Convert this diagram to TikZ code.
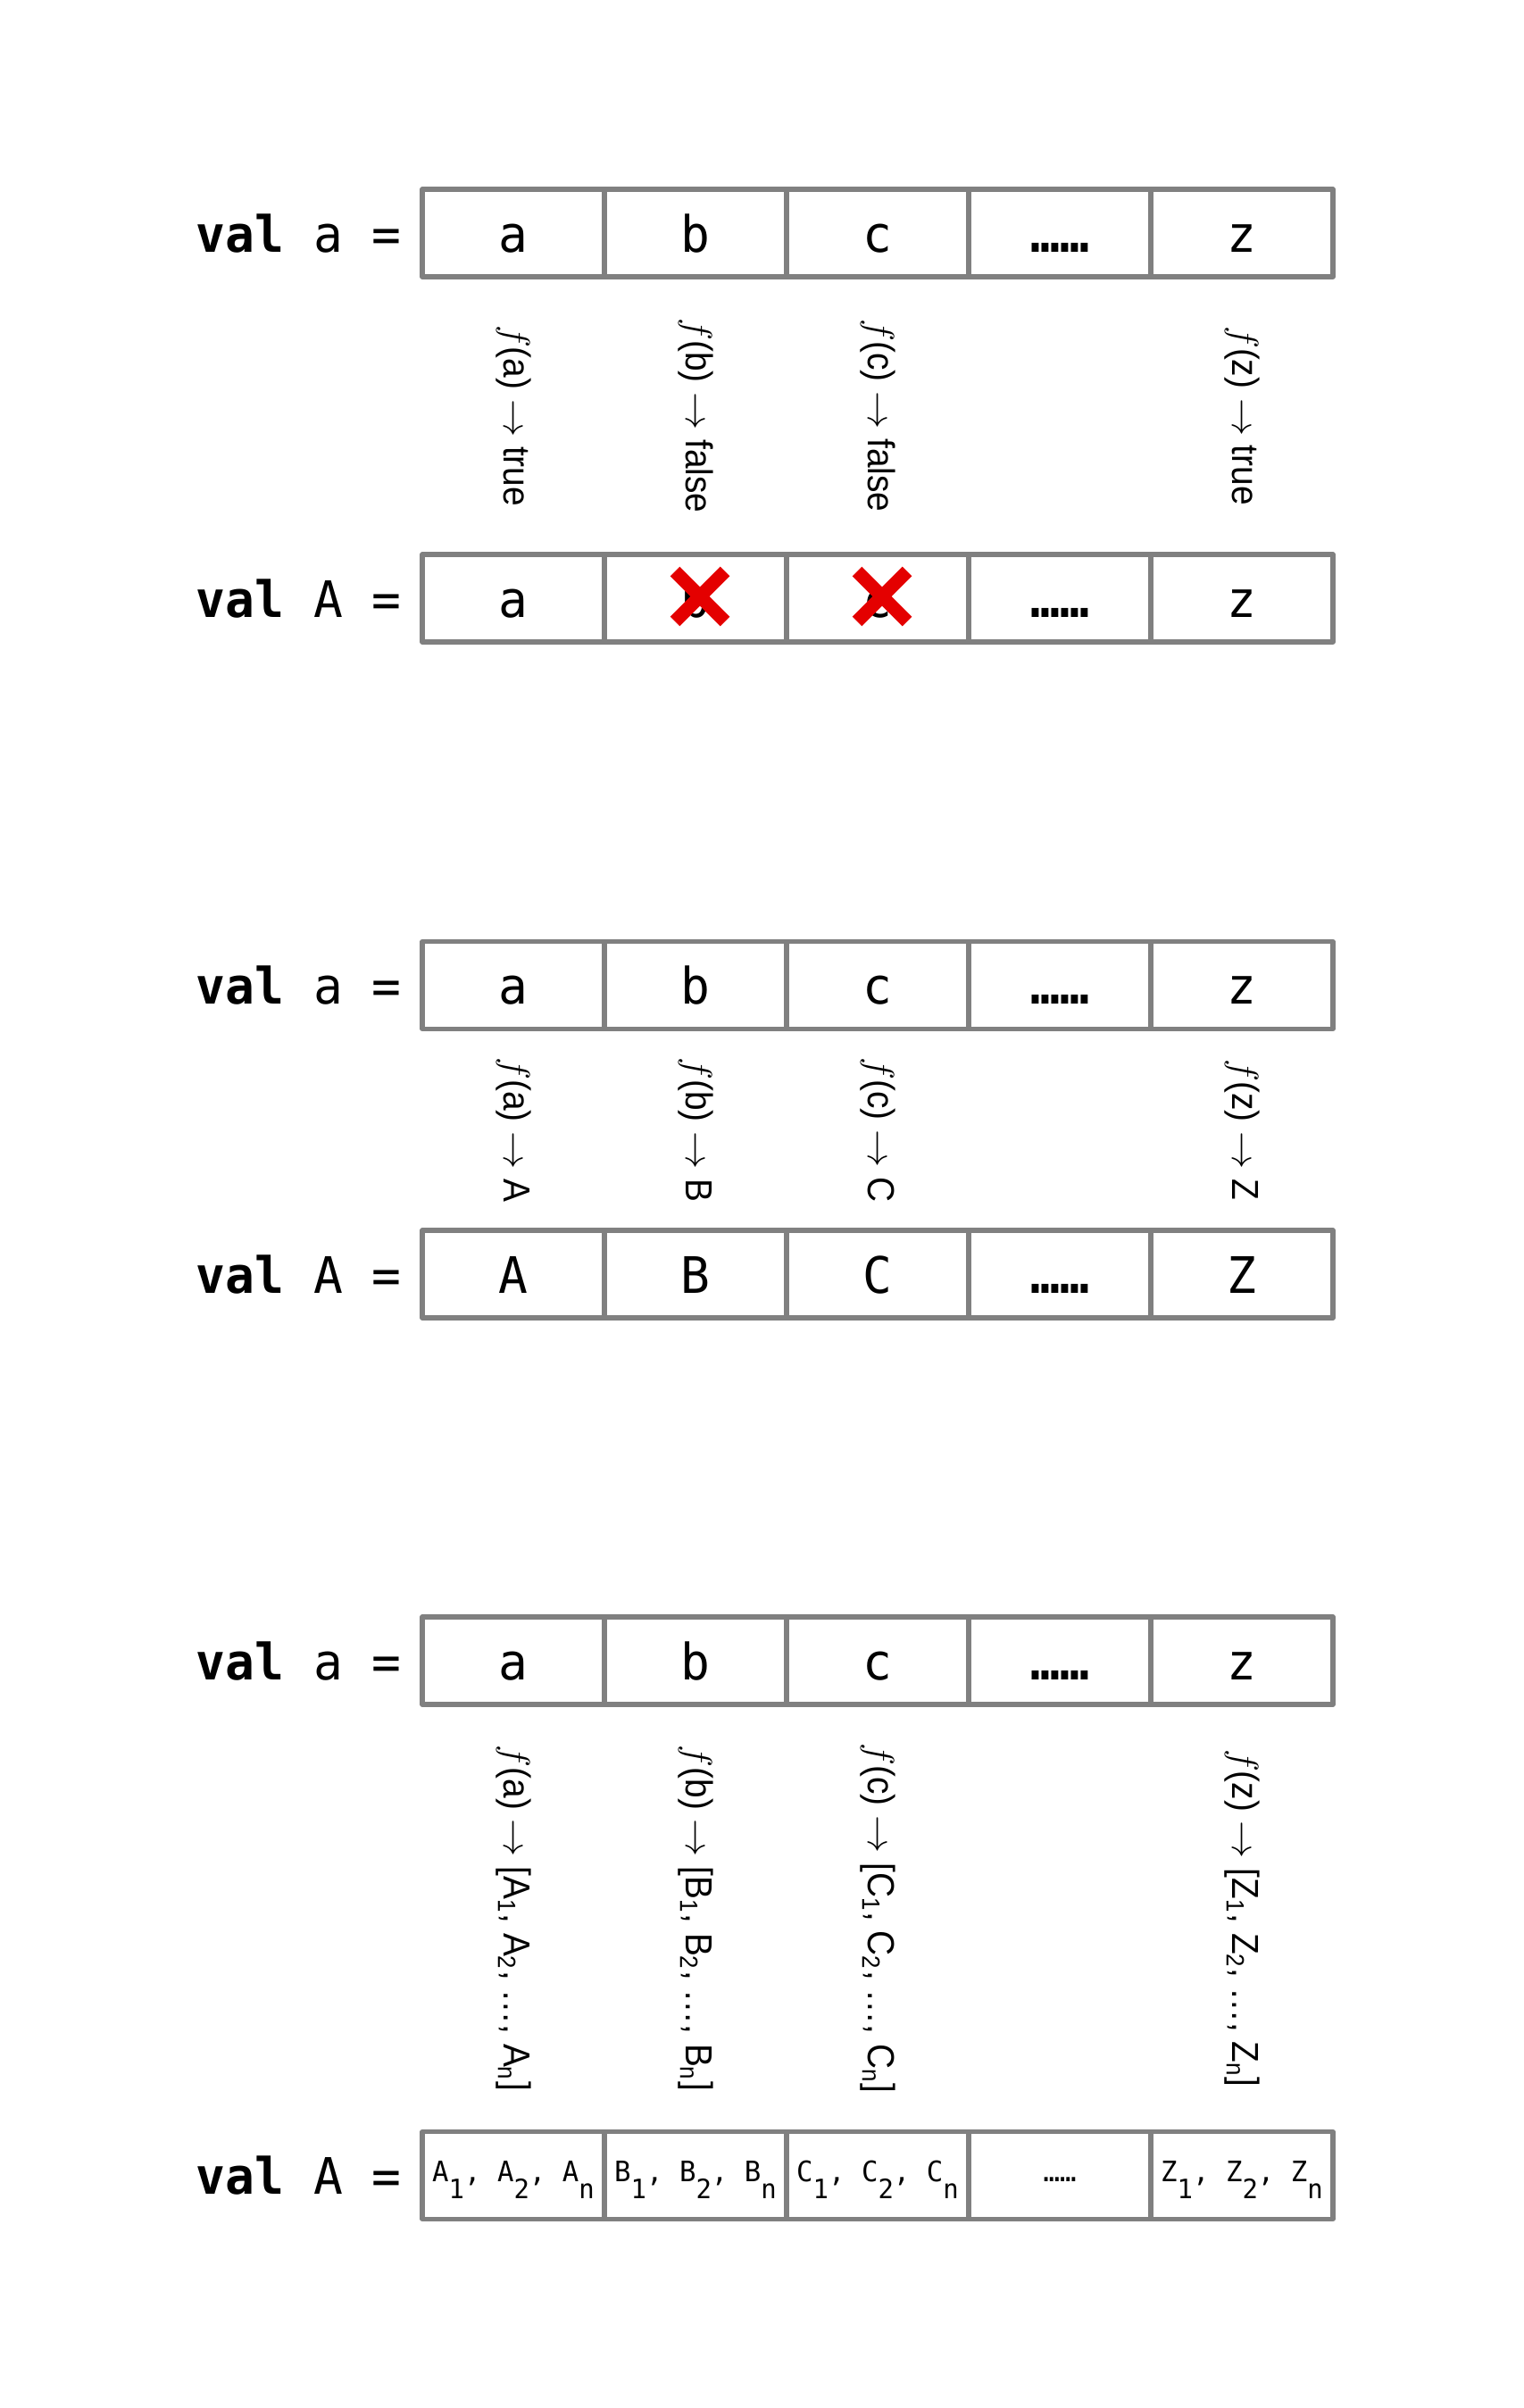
\documentclass[tikz,border=0pt]{standalone}
\usepackage{fontspec}
\setmainfont[FakeStretch=0.92]{Liberation Sans}
\newfontfamily\codefont[FakeStretch=0.97]{DejaVu Sans Mono}
\usetikzlibrary{
    positioning,
    calc
}
\definecolor{cellGray}{RGB}{128, 128, 128}
\definecolor{crossRed}{RGB}{228, 0, 0}
\newcommand{\lowidx}[1]{\raisebox{-5.5pt}{\fontsize{8.5}{9}\selectfont #1}}
\newcommand{\idxlist}[1]{#1\lowidx{1}, #1\lowidx{2}, #1\lowidx{n}}

\begin{document}
\begin{tikzpicture}[
        cell/.style={draw=cellGray, line width=1.45pt, line join=round,
            minimum width=2.04cm, minimum height=0.98cm, inner sep=0pt,
            text height=12pt, text depth=0pt,
            font=\codefont\fontsize{16}{18}\selectfont},
        small cell/.style={cell, text height=4pt,
            font=\codefont\fontsize{9}{12}\selectfont},
        decl/.style={inner sep=0pt, text height=12pt, text depth=0pt,
            font=\codefont\fontsize{16}{18}\selectfont},
        fx/.style={rotate=-90, inner sep=0pt, font=\fontsize{12}{14}\selectfont},
        cross/.style={crossRed, line width=4.3pt}
    ]
    \useasboundingbox (0,0) rectangle (17.06,-26.97);

    % filter: true keeps, false drops
    \foreach \t [count=\i] in {a,b,c,{\bfseries ……},z} {
        \node[cell] (top1-\i) at ({5.75+2.04*(\i-1)}, -2.61) {\t};
        \node[cell] (bot1-\i) at ({5.75+2.04*(\i-1)}, -6.70) {\t};
    }
    \node[decl, left=0.2cm of top1-1] (decl1a) {\textbf{val} a =};
    \node[decl, left=0.2cm of bot1-1] (decl1A) {\textbf{val} A =};
    \foreach \i/\s/\r in {1/a/true, 2/b/false, 3/c/false, 5/z/true} {
        \node[fx] (map1-\i) at ($(top1-\i)!0.5!(bot1-\i)$) {$f$(\s)\ $\rightarrow$\ \r};
    }
    \foreach \i in {2,3} {
        \draw[cross] ($(bot1-\i.center)+(-0.23,0.30)$) -- ($(bot1-\i.center)+(0.33,-0.26)$);
        \draw[cross] ($(bot1-\i.center)+(0.33,0.30)$) -- ($(bot1-\i.center)+(-0.23,-0.26)$);
    }

    % map: one to one
    \foreach \t/\T [count=\i] in {a/A,b/B,c/C,{\bfseries ……}/{\bfseries ……},z/Z} {
        \node[cell] (top2-\i) at ({5.75+2.04*(\i-1)}, -11.035) {\t};
        \node[cell] (bot2-\i) at ({5.75+2.04*(\i-1)}, -14.27) {\T};
    }
    \node[decl, left=0.2cm of top2-1] (decl2a) {\textbf{val} a =};
    \node[decl, left=0.2cm of bot2-1] (decl2A) {\textbf{val} A =};
    \foreach \i/\s/\R in {1/a/A, 2/b/B, 3/c/C, 5/z/Z} {
        \node[fx] (map2-\i) at ($(top2-\i)!0.5!(bot2-\i)$) {$f$(\s)\ $\rightarrow$\ \R};
    }

    % flatMap: one to many
    \foreach \t [count=\i] in {a,b,c,{\bfseries ……},z} {
        \node[cell] (top3-\i) at ({5.75+2.04*(\i-1)}, -18.60) {\t};
    }
    \foreach \t [count=\i] in {\idxlist{A},\idxlist{B},\idxlist{C},……,\idxlist{Z}} {
        \node[small cell] (bot3-\i) at ({5.75+2.04*(\i-1)}, -24.365) {\t};
    }
    \node[decl, left=0.2cm of top3-1] (decl3a) {\textbf{val} a =};
    \node[decl, left=0.2cm of bot3-1] (decl3A) {\textbf{val} A =};
    \foreach \i/\s/\R in {1/a/A, 2/b/B, 3/c/C, 5/z/Z} {
        \node[fx] (map3-\i) at ($(top3-\i)!0.5!(bot3-\i)$)
            {$f$(\s)\ $\rightarrow$\ [\R\textsubscript{1}, \R\textsubscript{2}, \ldots, \R\textsubscript{n}]};
    }
\end{tikzpicture}
\end{document}
